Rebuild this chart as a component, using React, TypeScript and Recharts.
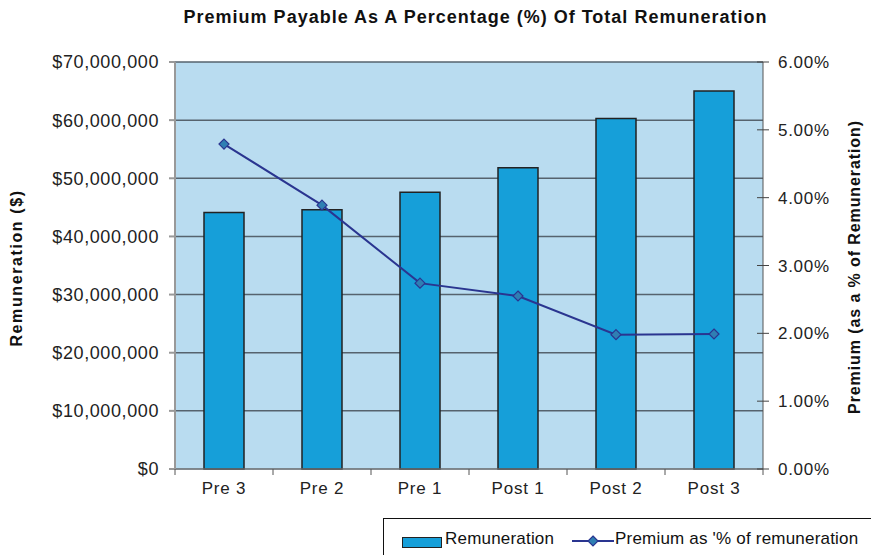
import React from 'react'
import {
  ComposedChart,
  Bar,
  Line,
  XAxis,
  YAxis,
  CartesianGrid
} from 'recharts'

const categories = ['Pre 3', 'Pre 2', 'Pre 1', 'Post 1', 'Post 2', 'Post 3']
const remuneration = [44100000, 44600000, 47600000, 51800000, 60300000, 65000000]
const premiumPct = [4.79, 3.89, 2.74, 2.55, 1.98, 1.99]
const leftTicks = [0, 10000000, 20000000, 30000000, 40000000, 50000000, 60000000, 70000000]
const rightTicks = [0, 1, 2, 3, 4, 5, 6]

const data = categories.map((name, i) => ({
  name,
  remuneration: remuneration[i],
  premium: premiumPct[i]
}))

const font = '"Liberation Sans", Arial, sans-serif'
const half = 49 // half a category band

const Diamond = (props: any) => {
  const { cx, cy } = props
  if (cx == null || cy == null) return null
  const r = 5
  return (
    <polygon
      points={`${cx},${cy - r} ${cx + r},${cy} ${cx},${cy + r} ${cx - r},${cy}`}
      fill="#2f7fb3"
      stroke="#2a3590"
      strokeWidth={1.2}
    />
  )
}

const XTick = (props: any) => {
  const { x, y, payload, index } = props
  const top = y - 8
  return (
    <g>
      <line x1={x - half} x2={x - half} y1={top} y2={top + 6} stroke="#555" />
      {index === categories.length - 1 && (
        <line x1={x + half} x2={x + half} y1={top} y2={top + 6} stroke="#555" />
      )}
      <text x={x} y={y + 5} dy="0.71em" textAnchor="middle" fontSize={17} letterSpacing={0.8} fill="#222">
        {payload.value}
      </text>
    </g>
  )
}

// right axis ticks cross the axis line, like the original
const RightTick = (props: any) => {
  const { x, y, payload } = props
  const axisX = x - 15
  return (
    <g>
      <line x1={axisX - 6} x2={axisX + 6} y1={y} y2={y} stroke="#444" />
      <text x={x} y={y} dy="0.355em" textAnchor="start" fontSize={17} letterSpacing={0.7} fill="#222">
        {payload.value.toFixed(2) + '%'}
      </text>
    </g>
  )
}

export default function App() {
  return (
    <div style={{ position: 'absolute', left: 0, top: 0, width: 871, height: 555, background: '#fff', fontFamily: font, overflow: 'hidden' }}>
      <div style={{ position: 'absolute', left: 0, width: 871, top: 7, textAlign: 'center', paddingLeft: 80, boxSizing: 'border-box', fontWeight: 'bold', fontSize: 18, letterSpacing: 1, color: '#111' }}>
        Premium Payable As A Percentage (%) Of Total Remuneration
      </div>
      <ComposedChart
        width={871}
        height={555}
        data={data}
        margin={{ top: 62, right: 0, left: 0, bottom: 56 }}
        style={{ fontFamily: font }}
      >
        <CartesianGrid
          vertical={false}
          fill="#b9dcf0"
          stroke="#56636e"
          strokeWidth={1.5}
          yAxisId="left"
        />
        <XAxis
          dataKey="name"
          height={30}
          stroke="#888"
          tick={<XTick />}
          tickLine={false}
          interval={0}
        />
        <YAxis
          yAxisId="left"
          width={175}
          domain={[0, 70000000]}
          ticks={leftTicks}
          interval={0}
          stroke="#999"
          strokeWidth={2}
          tickSize={6}
          tickMargin={10}
          tick={{ fill: '#222', fontSize: 18, letterSpacing: 0.6 }}
          tickFormatter={(v: number) => '$' + v.toLocaleString('en-US')}
        />
        <YAxis
          yAxisId="right"
          orientation="right"
          width={108}
          domain={[0, 6]}
          ticks={rightTicks}
          interval={0}
          stroke="#555"
          tickSize={6}
          tickMargin={9}
          tickLine={false}
          tick={<RightTick />}
        />
        <Bar
          yAxisId="left"
          dataKey="remuneration"
          barSize={40}
          fill="#169fd9"
          stroke="#222"
          strokeWidth={1.5}
          isAnimationActive={false}
        />
        <Line
          yAxisId="right"
          dataKey="premium"
          stroke="#2a3590"
          strokeWidth={2}
          dot={<Diamond />}
          activeDot={false}
          isAnimationActive={false}
        />
      </ComposedChart>
      <div style={{ position: 'absolute', left: 17, top: 268, transform: 'translate(-50%, -50%) rotate(-90deg)', whiteSpace: 'nowrap', fontWeight: 'bold', fontSize: 16, letterSpacing: 1.6, color: '#111' }}>
        Remuneration ($)
      </div>
      <div style={{ position: 'absolute', left: 855, top: 267, transform: 'translate(-50%, -50%) rotate(-90deg)', whiteSpace: 'nowrap', fontWeight: 'bold', fontSize: 16, letterSpacing: 0.9, color: '#111' }}>
        Premium (as a % of Remuneration)
      </div>
      <div style={{ position: 'absolute', left: 383, top: 518, width: 520, height: 50, border: '1px solid #111', boxSizing: 'border-box' }}>
        <div style={{ position: 'absolute', left: 18, top: 18, width: 38, height: 9, background: '#169fd9', border: '1.5px solid #222' }} />
        <div style={{ position: 'absolute', left: 61, top: 10, fontSize: 17, letterSpacing: 0.2, color: '#111' }}>Remuneration</div>
        <svg style={{ position: 'absolute', left: 188, top: 15 }} width={42} height={14}>
          <line x1={0} y1={7} x2={42} y2={7} stroke="#2a3590" strokeWidth={2} />
          <polygon points="21,2 26,7 21,12 16,7" fill="#2f7fb3" stroke="#2a3590" strokeWidth={1.2} />
        </svg>
        <div style={{ position: 'absolute', left: 231, top: 10, fontSize: 17, letterSpacing: 0.2, color: '#111' }}>Premium as '% of remuneration</div>
      </div>
    </div>
  )
}
